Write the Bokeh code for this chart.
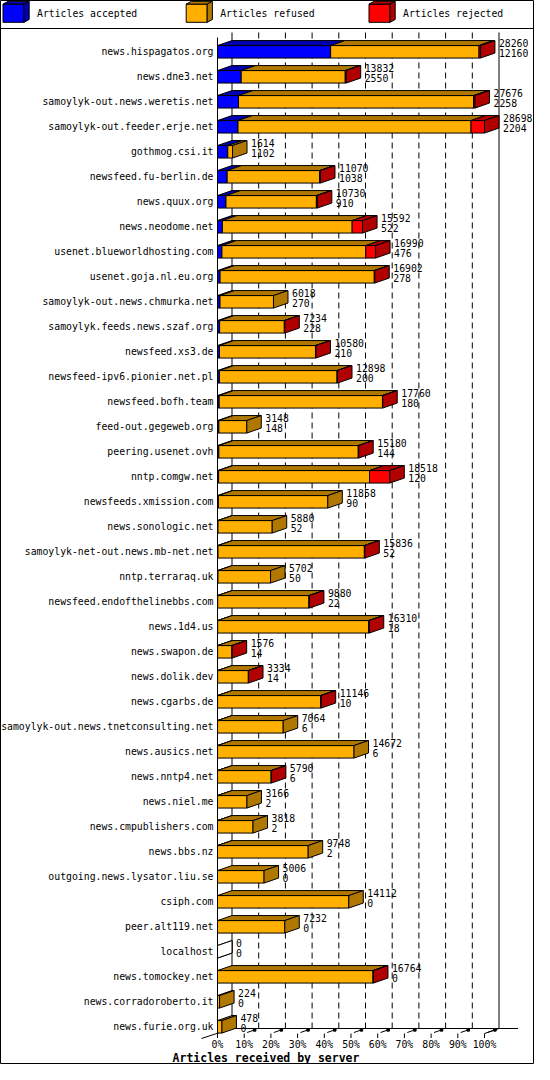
from bokeh.plotting import figure
from bokeh.models import Range1d
from bokeh.core.properties import value
from bokeh.embed import file_html
from bokeh.resources import INLINE

# ---------------- data ----------------
hosts = [
    "news.hispagatos.org", "news.dne3.net", "samoylyk-out.news.weretis.net",
    "samoylyk-out.feeder.erje.net", "gothmog.csi.it", "newsfeed.fu-berlin.de",
    "news.quux.org", "news.neodome.net", "usenet.blueworldhosting.com",
    "usenet.goja.nl.eu.org", "samoylyk-out.news.chmurka.net",
    "samoylyk.feeds.news.szaf.org", "newsfeed.xs3.de",
    "newsfeed-ipv6.pionier.net.pl", "newsfeed.bofh.team", "feed-out.gegeweb.org",
    "peering.usenet.ovh", "nntp.comgw.net", "newsfeeds.xmission.com",
    "news.sonologic.net", "samoylyk-net-out.news.mb-net.net", "nntp.terraraq.uk",
    "newsfeed.endofthelinebbs.com", "news.1d4.us", "news.swapon.de",
    "news.dolik.dev", "news.cgarbs.de", "samoylyk-out.news.tnetconsulting.net",
    "news.ausics.net", "news.nntp4.net", "news.niel.me", "news.cmpublishers.com",
    "news.bbs.nz", "outgoing.news.lysator.liu.se", "csiph.com", "peer.alt119.net",
    "localhost", "news.tomockey.net", "news.corradoroberto.it", "news.furie.org.uk",
]
offered = [28260, 13832, 27676, 28698, 1614, 11070, 10730, 15592, 16990, 16902,
           6018, 7234, 10580, 12898, 17760, 3148, 15180, 18518, 11858, 5880,
           15836, 5702, 9880, 16310, 1576, 3334, 11146, 7064, 14672, 5790,
           3166, 3818, 9748, 5006, 14112, 7232, 0, 16764, 224, 478]
accepted = [12160, 2550, 2258, 2204, 1102, 1038, 910, 522, 476, 278,
            270, 228, 210, 200, 180, 148, 144, 120, 90, 52,
            52, 50, 22, 18, 14, 14, 10, 6, 6, 6,
            2, 2, 2, 0, 0, 0, 0, 0, 0, 0]
refused = [15950, 11182, 25268, 25044, 512, 9932, 9720, 13950, 15464, 16574,
           5748, 6956, 10320, 12648, 17550, 3000, 14986, 16218, 11768, 5828,
           15734, 5652, 9808, 16242, 1552, 3300, 11086, 7058, 14666, 5764,
           3164, 3816, 9746, 5006, 14112, 7232, 0, 16714, 224, 478]
rejected = [150, 100, 150, 1450, 0, 100, 100, 1120, 1050, 50,
            0, 50, 50, 50, 30, 0, 50, 2180, 0, 0,
            50, 0, 50, 50, 10, 20, 50, 0, 0, 20,
            0, 0, 0, 0, 0, 0, 0, 50, 0, 0]
series_names = ["Articles accepted", "Articles refused", "Articles rejected"]
front_colors = ["#0000FF", "#FFAF00", "#FF0000"]
shade_colors = ["#0000B0", "#B07800", "#B00000"]
pct_ticks = [0, 10, 20, 30, 40, 50, 60, 70, 80, 90, 100]
pct_labels = ["0%", "10%", "20%", "30%", "40%", "50%", "60%", "70%", "80%", "90%", "100%"]
x_title = "Articles received by server"

# ---------------- layout (pixel geometry) ----------------
W, H = 534, 1064
OFF = 8                # page margin
AX0 = 225.0            # pixel of 0 %
PPX = 2.67             # pixels per percent
ROW0 = 59.3            # pixel of first row centre
ROWPX = 25.0           # pixels per row
DEP_X, DEP_Y = 14.5, 5.0
FONT = value("DejaVu Sans Mono")


def X(px):
    return (px - AX0) / PPX


def Y(py):
    return (py - ROW0) / ROWPX


def dx(px):
    return px / PPX


def dy(py):
    return py / ROWPX


DX = dx(DEP_X)
DY = -dy(DEP_Y)
BH = dy(6.25)

p = figure(width=W, height=H,
           x_range=Range1d(X(OFF), X(OFF + W)),
           y_range=Range1d(Y(OFF + H), Y(OFF)),
           output_backend="svg", toolbar_location=None,
           x_axis_location=None, y_axis_location=None, min_border=0)
p.grid.visible = False
p.outline_line_color = "black"
p.background_fill_color = "white"
p.border_fill_color = "white"

# ---------------- legend ----------------
p.segment(x0=[X(OFF)], x1=[X(OFF + W)], y0=[Y(36)], y1=[Y(36)], line_color="black", line_width=1)
leg_left = [10.5, 193.7, 376.5]
lxs, lys, lcs = [], [], []
for k, l in enumerate(leg_left):
    r = l + 21
    t, b = 11.6, 29.8
    lxs += [[X(l), X(r), X(r), X(l)],
            [X(l), X(r), X(r + 5.2), X(l + 5.2)],
            [X(r), X(r + 5.2), X(r + 5.2), X(r)]]
    lys += [[Y(t), Y(t), Y(b), Y(b)],
            [Y(t), Y(t), Y(t - 2.8), Y(t - 2.8)],
            [Y(t), Y(t - 2.8), Y(b - 2.8), Y(b)]]
    lcs += [front_colors[k], shade_colors[k], shade_colors[k]]
p.patches(xs=lxs, ys=lys, fill_color=lcs, line_color="black", line_width=1)
p.text(x=[X(l + 34) for l in leg_left], y=[Y(20.7)] * 3, text=series_names,
       text_font=FONT, text_font_size="9.8px", text_color="black",
       text_align="left", text_baseline="middle")

# ---------------- back wall & floor ----------------
n = len(hosts)
wall_top = Y(40)
floor_back = Y(1036)
floor_front = floor_back - DY
inner = [t for t in pct_ticks if 0 < t < 100]
p.segment(x0=[t + DX for t in inner], x1=[t + DX for t in inner],
          y0=[wall_top] * len(inner), y1=[floor_back] * len(inner),
          line_color="black", line_width=1, line_dash="6 4")
p.segment(x0=[DX, 100 + DX], x1=[DX, 100 + DX], y0=[wall_top] * 2, y1=[floor_back] * 2,
          line_color="black", line_width=1)
# front left edge, back floor, floor side edges
p.segment(x0=[0, DX, 100, DX - dx(30.5)],
          x1=[0, 100 + DX + dx(19), 100 + DX, DX],
          y0=[wall_top - DY, floor_back, floor_front, floor_back + dy(10)],
          y1=[floor_front, floor_back, floor_back, floor_back],
          line_color="black", line_width=1)
# ticks on the front edge
p.segment(x0=pct_ticks, x1=pct_ticks, y0=[floor_front] * 11, y1=[floor_front + dy(4.5)] * 11,
          line_color="black", line_width=1)
dep = [t for t in pct_ticks if t > 0]
p.segment(x0=[t + DX * 0.2 for t in dep], x1=[t + DX * 0.68 for t in dep],
          y0=[floor_front + DY * 0.2] * len(dep), y1=[floor_front + DY * 0.68] * len(dep),
          line_color="black", line_width=1)
p.scatter(x=[t + DX * 0.72 for t in dep], y=[floor_front + DY * 0.72] * len(dep),
          marker="square", size=2.5, fill_color="black", line_color="black")

# ---------------- 3-D stacked bars ----------------
vmax = max(offered)
bxs, bys, bcs = [], [], []
ends = []
for i in range(n):
    c = i
    t, b = c - BH, c + BH
    s = 0.0
    last = "white"
    for v, fc, sc in zip((accepted[i], refused[i], rejected[i]), front_colors, shade_colors):
        if v <= 0:
            continue
        e = s + v / vmax * 100.0
        bxs.append([s, e, e, s]); bys.append([t, t, b, b]); bcs.append(fc)
        bxs.append([s, e, e + DX, s + DX]); bys.append([t, t, t + DY, t + DY]); bcs.append(sc)
        s = e
        last = sc
    if s == 0.0:
        bxs.append([0, 0, DX, DX]); bys.append([t, b, b + DY, t + DY]); bcs.append("white")
    bxs.append([s, s + DX, s + DX, s]); bys.append([t, t + DY, b + DY, b]); bcs.append(last)
    ends.append(s)
p.patches(xs=bxs, ys=bys, fill_color=bcs, line_color="black", line_width=1)

# ---------------- texts ----------------
rows = list(range(n))
p.text(x=[X(221)] * n, y=rows, text=hosts, text_font=FONT, text_font_size="9.8px",
       text_color="black", text_align="right", text_baseline="middle")
lab_x = [e + DX + dx(4) for e in ends]
p.text(x=lab_x, y=[r - dy(9.3) for r in rows], text=[str(v) for v in offered],
       text_font=FONT, text_font_size="9.8px", text_color="black",
       text_align="left", text_baseline="middle")
p.text(x=lab_x, y=[r + dy(1.4) for r in rows], text=[str(v) for v in accepted],
       text_font=FONT, text_font_size="9.8px", text_color="black",
       text_align="left", text_baseline="middle")
p.text(x=pct_ticks, y=[Y(1052)] * 11, text=pct_labels, text_font=FONT,
       text_font_size="9.8px", text_color="black", text_align="center",
       text_baseline="middle")
p.text(x=[X(273.5)], y=[Y(1065)], text=[x_title], text_font=FONT,
       text_font_size="11.5px", text_font_style="bold", text_color="black",
       text_align="center", text_baseline="middle")

open("out.html", "w").write(file_html(p, INLINE))
